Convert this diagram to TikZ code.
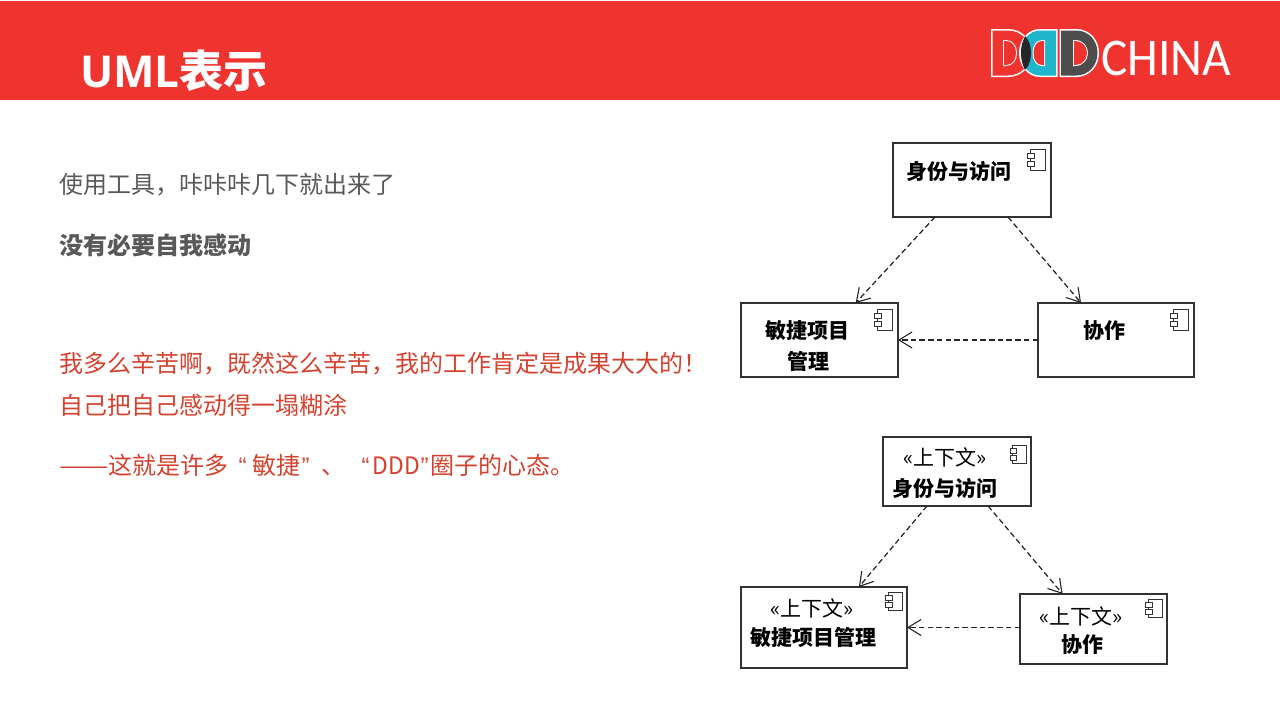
\documentclass[tikz,border=0pt]{standalone}
\usepackage{fontspec}
\usepackage{graphicx}
\usetikzlibrary{arrows.meta,calc}
\setmainfont{Noto Sans CJK SC}
\newfontfamily\latinbold[BoldFont={Open Sans Bold}]{Open Sans}
\newfontfamily\logofont{Carlito}
\newfontfamily\quotefont{Liberation Sans}
\definecolor{bannerred}{HTML}{EF3430}
\definecolor{bodygrey}{HTML}{595959}
\definecolor{alertred}{HTML}{D5422F}
\definecolor{logocyan}{HTML}{1FB6CC}
\definecolor{logodark}{HTML}{4D4D4D}
\tikzset{
  x=1pt,y=-1pt,
  comp/.style={draw=black!80,line width=1.1pt,fill=white,inner sep=0pt,outer sep=0pt,minimum width=#1,anchor=north west},
  dep/.style={draw=black!85,line width=1.25pt,dash pattern=on 5.5pt off 3.2pt,-{Straight Barb[length=13pt,width=16pt,line width=1.1pt]}},
  bodytext/.style={font=\fontsize{24}{24}\selectfont,text=bodygrey,anchor=west,inner sep=0pt},
  alert/.style={bodytext,text=alertred},
  bold label/.style={font=\fontsize{21}{21}\selectfont\bfseries,text=black,inner sep=0pt},
  stereo/.style={font=\fontsize{21}{21}\selectfont,text=black,inner sep=0pt},
  pics/icon/.style={code={
    \draw[draw=black!80,line width=.9pt,fill=white] (-15,0) rectangle (0,21);
    \draw[draw=black!80,line width=.9pt,fill=white] (-18,4.3) rectangle (-10.5,9.3);
    \draw[draw=black!80,line width=.9pt,fill=white] (-18,12) rectangle (-10.5,17);
  }},
}
\newcommand{\nq}[1]{{\quotefont #1}}
\begin{document}
\begin{tikzpicture}
\useasboundingbox (0,0) rectangle (1280,720);
\fill[white] (0,0) rectangle (1280,720);
\fill[bannerred] (0,1) rectangle (1280,100);
\node[anchor=west,inner sep=0pt,text=white] (title) at (80,71) {\fontsize{44}{44}\selectfont\bfseries\latinbold UML\normalfont\bfseries 表示};

% logo
\fill[white] (991,29) -- (1008,29) .. controls (1022,29) and (1032,40) .. (1032,53) .. controls (1032,66) and (1022,77) .. (1008,77) -- (991,77) -- cycle;
\fill[bannerred] (992.5,30.5) -- (1008,30.5) .. controls (1021,30.5) and (1030.5,41) .. (1030.5,53) .. controls (1030.5,65) and (1021,75.5) .. (1008,75.5) -- (992.5,75.5) -- cycle;
\fill[white] (1057.5,29) -- (1040,29) .. controls (1028,29) and (1019,40) .. (1019,53) .. controls (1019,66) and (1028,77) .. (1040,77) -- (1057.5,77) -- cycle;
\fill[logocyan] (1056,30.5) -- (1040,30.5) .. controls (1029,30.5) and (1021,41) .. (1021,53) .. controls (1021,65) and (1029,75.5) .. (1040,75.5) -- (1056,75.5) -- cycle;
\begin{scope}
\clip (1021,53) .. controls (1021,43) and (1025,37) .. (1025,36) .. controls (1029,40) and (1031,46) .. (1031,53) .. controls (1031,60) and (1029,66) .. (1025,70) .. controls (1023,66) and (1021,60) .. (1021,53) -- cycle;
\fill[black!85] (1015,30) rectangle (1035,75);
\end{scope}
\fill[white] (1003,40) -- (1006,40) .. controls (1013,40) and (1017,46) .. (1017,53) .. controls (1017,60) and (1013,66) .. (1006,66) -- (1003,66) -- cycle;
\fill[bannerred] (1004,41) -- (1006,41) .. controls (1012,41) and (1016,46) .. (1016,53) .. controls (1016,60) and (1012,65) .. (1006,65) -- (1004,65) -- cycle;
\fill[white] (1045,40) -- (1042,40) .. controls (1036,40) and (1032.5,46) .. (1032.5,53) .. controls (1032.5,60) and (1036,66) .. (1042,66) -- (1045,66) -- cycle;
\fill[bannerred] (1044,41) -- (1042,41) .. controls (1037,41) and (1033.5,46) .. (1033.5,53) .. controls (1033.5,60) and (1037,65) .. (1042,65) -- (1044,65) -- cycle;
\fill[white] (1059.5,29) -- (1076,29) .. controls (1090,29) and (1099,40) .. (1099,53) .. controls (1099,66) and (1090,77) .. (1076,77) -- (1059.5,77) -- cycle;
\fill[logodark] (1061,30.5) -- (1076,30.5) .. controls (1089,30.5) and (1097.5,41) .. (1097.5,53) .. controls (1097.5,65) and (1089,75.5) .. (1076,75.5) -- (1061,75.5) -- cycle;
\fill[white] (1073,40) -- (1075,40) .. controls (1083,40) and (1088,46) .. (1088,53) .. controls (1088,60) and (1083,66) .. (1075,66) -- (1073,66) -- cycle;
\fill[bannerred] (1074,41) -- (1075,41) .. controls (1082,41) and (1087,46) .. (1087,53) .. controls (1087,60) and (1082,65) .. (1075,65) -- (1074,65) -- cycle;
\node[anchor=base west,inner sep=0pt,text=white] (china) at (1101,75) {\logofont\fontsize{53}{53}\selectfont\scalebox{.93}[1]{CHINA}};

% left text
\node[bodytext] (t1) at (59,185) {使用工具，咔咔咔几下就出来了};
\node[bodytext,font=\fontsize{24}{24}\selectfont\bfseries] (t2) at (59,245) {没有必要自我感动};
\node[alert] (t3) at (59,364) {我多么辛苦啊，既然这么辛苦，我的工作肯定是成果大大的！};
\node[alert] (t4) at (59,405) {自己把自己感动得一塌糊涂};
\node[alert] (t5) at (59,465) {\scalebox{1.23}[1]{——}这就是许多\hspace{10pt}\nq{“}\hspace{6pt}敏捷\hspace{1pt}\nq{”}\hspace{12pt}、\hspace{16pt}\nq{“}\hspace{3pt}\scalebox{.95}[1]{DDD}\hspace{1pt}\nq{”}\hspace{2pt}圈子的心态。};

% upper diagram
\node[comp=158pt,minimum height=74pt] (a) at (893,143) {};
\node[comp=157pt,minimum height=74pt] (b) at (741,303) {};
\node[comp=156pt,minimum height=74pt] (c) at (1038,303) {};
\pic at (1045,149) {icon};
\pic at (892,309) {icon};
\pic at (1188,309) {icon};
\node[bold label] (al) at (959,171) {身份与访问};
\node[bold label] (bl1) at (807,331) {敏捷项目};
\node[bold label] (bl2) at (808,361) {管理};
\node[bold label] (cl) at (1104,331) {协作};
\draw[dep] ($(a.south west)!.266!(a.south east)$) -- ($(b.north west)!.73!(b.north east)$);
\draw[dep] ($(a.south west)!.728!(a.south east)$) -- ($(c.north west)!.276!(c.north east)$);
\draw[dep] (c.west) -- (b.east);

% lower diagram
\node[comp=148pt,minimum height=69pt] (d) at (883,437) {};
\node[comp=166pt,minimum height=81pt] (e) at (741,587) {};
\node[comp=147pt,minimum height=70pt] (f) at (1020,594) {};
\pic[scale=.88] at (1026,445) {icon};
\pic[scale=.9] at (902,592) {icon};
\pic[scale=.9] at (1162,599) {icon};
\node[stereo] (ds) at (945,457) {«上下文»};
\node[bold label] (dl) at (945,488) {身份与访问};
\node[stereo] (es) at (812,608) {«上下文»};
\node[bold label] (el) at (813,637) {敏捷项目管理};
\node[stereo] (fs) at (1081,616) {«上下文»};
\node[bold label] (fl) at (1082,645) {协作};
\draw[dep] ($(d.south west)!.297!(d.south east)$) -- ($(e.north west)!.71!(e.north east)$);
\draw[dep] ($(d.south west)!.71!(d.south east)$) -- ($(f.north west)!.29!(f.north east)$);
\draw[dep] (f.west |- e.east) -- (e.east);
\end{tikzpicture}
\end{document}
